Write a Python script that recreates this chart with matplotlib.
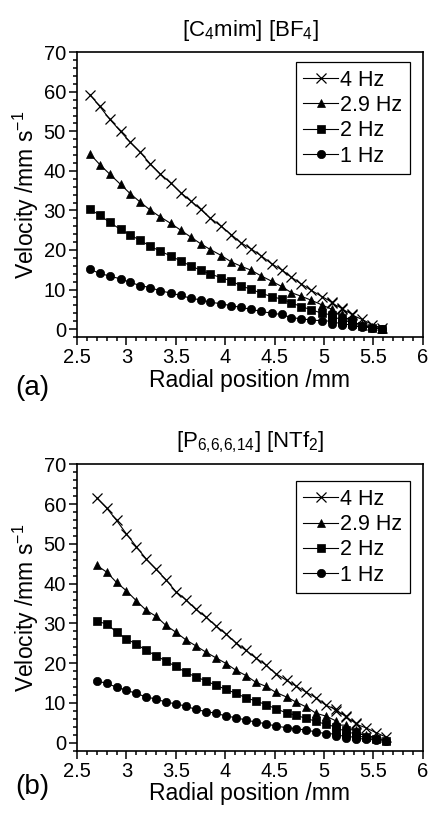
import matplotlib
matplotlib.use("Agg")
from matplotlib import pyplot as plt
from matplotlib.ticker import MultipleLocator, FormatStrFormatter

plt.rcParams['font.family'] = ['Liberation Sans', 'DejaVu Sans']
plt.rcParams['mathtext.fontset'] = 'custom'
plt.rcParams['mathtext.rm'] = 'Liberation Sans'
plt.rcParams['mathtext.it'] = 'Liberation Sans:italic'

# panel (a): [C4mim][BF4]
x_a = [2.63, 2.73, 2.83, 2.94, 3.04, 3.14, 3.24, 3.34, 3.45, 3.55, 3.65, 3.75,
       3.85, 3.96, 4.06, 4.16, 4.26, 4.36, 4.47, 4.57, 4.67, 4.77, 4.87, 4.98,
       5.08, 5.08, 5.18, 5.18, 5.28, 5.28, 5.38, 5.49, 5.59]
v4_a = [59.3, 56.3, 53.1, 50.0, 47.2, 44.7, 41.8, 39.3, 36.9, 34.5, 32.4, 30.3,
        28.0, 26.0, 23.9, 21.8, 20.3, 18.6, 16.5, 15.0, 13.1, 11.4, 9.8, 8.2,
        6.8, 6.5, 5.3, 5.0, 3.9, 3.6, 2.5, 1.1, 0.2]
v29_a = [44.3, 41.6, 39.2, 36.6, 34.2, 32.1, 30.1, 28.4, 26.7, 25.0, 23.3, 21.6,
         20.1, 18.6, 17.0, 15.9, 14.9, 13.5, 12.1, 10.8, 9.2, 8.3, 7.3, 6.1,
         5.0, 4.0, 3.8, 2.8, 2.6, 1.7, 1.2, 0.5, 0.1]
v2_a = [30.3, 28.8, 27.0, 25.2, 23.8, 22.4, 21.0, 19.7, 18.5, 17.2, 16.0, 14.9,
        13.9, 13.0, 12.2, 10.9, 10.1, 9.1, 8.2, 7.6, 6.6, 5.7, 4.9, 4.0,
        3.6, 2.8, 2.7, 1.9, 2.0, 1.2, 0.9, 0.4, 0.0]
v1_a = [15.1, 14.1, 13.4, 12.7, 11.8, 11.0, 10.5, 9.7, 9.1, 8.5, 7.8, 7.4,
        6.8, 6.4, 5.9, 5.5, 5.0, 4.5, 4.0, 3.7, 2.9, 2.6, 2.3, 2.1,
        2.0, 1.4, 1.7, 1.0, 1.3, 0.7, 0.6, 0.3, 0.1]

# panel (b): [P6,6,6,14][NTf2]
x_b = [2.70, 2.80, 2.90, 3.00, 3.10, 3.20, 3.30, 3.40, 3.50, 3.60, 3.70, 3.81,
       3.91, 4.01, 4.11, 4.21, 4.31, 4.41, 4.51, 4.62, 4.72, 4.82, 4.92, 5.02,
       5.12, 5.12, 5.22, 5.22, 5.32, 5.32, 5.42, 5.53, 5.63]
v4_b = [61.6, 59.0, 55.9, 52.5, 49.3, 46.2, 43.6, 41.0, 38.0, 36.0, 33.6, 31.5,
        29.3, 27.3, 25.1, 23.2, 21.3, 19.6, 17.4, 15.7, 14.2, 12.7, 11.3, 9.4,
        8.4, 8.1, 6.7, 6.4, 5.0, 4.7, 3.8, 2.5, 1.4]
v29_b = [44.6, 42.9, 40.3, 38.2, 35.7, 33.3, 31.8, 29.5, 27.8, 25.9, 24.4, 22.7,
         21.3, 19.9, 18.2, 16.9, 15.2, 14.2, 12.7, 11.5, 10.2, 9.0, 7.4, 6.7,
         5.5, 4.5, 4.4, 3.2, 3.3, 2.2, 2.0, 1.2, 0.6]
v2_b = [30.5, 29.9, 27.8, 26.1, 24.8, 23.2, 21.9, 20.5, 19.2, 17.7, 16.6, 15.5,
        14.4, 13.4, 12.4, 11.3, 10.5, 9.6, 8.6, 7.5, 6.9, 6.1, 5.4, 4.6,
        4.0, 3.2, 3.3, 2.3, 2.6, 1.6, 1.5, 1.0, 0.5]
v1_b = [15.6, 14.9, 14.0, 13.2, 12.4, 11.5, 11.0, 10.2, 9.8, 9.2, 8.4, 7.8,
        7.4, 6.7, 6.3, 5.7, 5.2, 4.8, 4.2, 3.8, 3.5, 3.2, 2.7, 2.3,
        2.2, 1.6, 1.9, 1.3, 1.6, 1.0, 1.0, 0.6, 0.4]

labels = ['4 Hz', '2.9 Hz', '2 Hz', '1 Hz']
titles = ['[C$_4$mim] [BF$_4$]', '[P$_{6{,}6{,}6{,}14}$] [NTf$_2$]']
panel_tags = ['(a)', '(b)']

fig = plt.figure(figsize=(4.28, 8.16), dpi=100)
ax_a = fig.add_axes([0.180, 0.587, 0.808, 0.349])
ax_b = fig.add_axes([0.180, 0.080, 0.808, 0.351])

styles = [dict(marker='x', ms=7.5, mew=0.9),
          dict(marker='^', ms=6.0, mew=0.5),
          dict(marker='s', ms=6.0, mew=0.5),
          dict(marker='o', ms=6.0, mew=0.5)]

panels = [(ax_a, x_a, [v4_a, v29_a, v2_a, v1_a], 0.965),
          (ax_b, x_b, [v4_b, v29_b, v2_b, v1_b], 0.941)]

for i, (ax, xs, series, leg_top) in enumerate(panels):
    for ys, lab, st in zip(series, labels, styles):
        ax.plot(xs, ys, color='black', lw=0.8, mfc='black', mec='black',
                label=lab, **st)
    ax.set_xlim(2.5, 6)
    ax.set_ylim(-2, 70)
    ax.xaxis.set_major_locator(MultipleLocator(0.5))
    ax.xaxis.set_minor_locator(MultipleLocator(0.1))
    ax.xaxis.set_major_formatter(FormatStrFormatter('%g'))
    ax.yaxis.set_major_locator(MultipleLocator(10))
    ax.yaxis.set_minor_locator(MultipleLocator(2))
    ax.tick_params(which='both', direction='out', top=False, right=False,
                   labelsize=14.5, width=1.1, colors='black', pad=2)
    ax.tick_params(which='major', length=6)
    ax.tick_params(which='minor', length=3)
    for sp in ax.spines.values():
        sp.set_linewidth(1.2)
    ax.set_xlabel('Radial position /mm', fontsize=16.5, labelpad=1)
    ax.set_ylabel('Velocity /mm s$^{-1}$', fontsize=16.5, labelpad=2)
    ax.set_title(titles[i], fontsize=16, pad=12)
    leg = ax.legend(loc='upper right', bbox_to_anchor=(0.962, leg_top),
                    fontsize=15.5, fancybox=False, framealpha=1,
                    edgecolor='black', handlelength=1.6, handletextpad=0.1,
                    labelspacing=0.2, borderpad=0.35, numpoints=1,
                    borderaxespad=0)
    leg.get_frame().set_linewidth(0.9)

fig.text(0.035, 0.525, panel_tags[0], fontsize=20, va='center', ha='left')
fig.text(0.035, 0.036, panel_tags[1], fontsize=20, va='center', ha='left')

fig.savefig('out.png', dpi=100)
